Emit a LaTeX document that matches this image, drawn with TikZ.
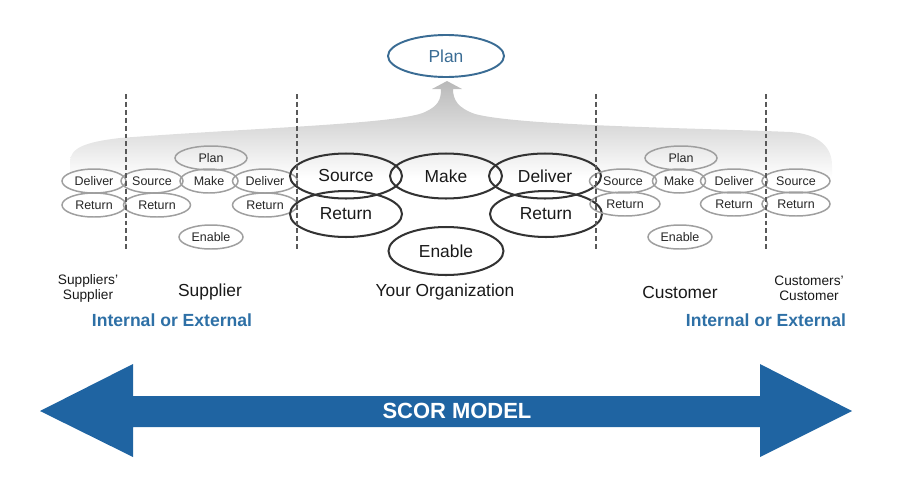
\documentclass[tikz,border=0pt]{standalone}
\usepackage{fontspec}
\setmainfont{Liberation Sans}
\usepackage{tikz}
\usetikzlibrary{shapes.geometric}
\definecolor{scorblue}{RGB}{31,100,162}
\definecolor{labelblue}{RGB}{46,112,166}
\definecolor{planblue}{RGB}{58,108,148}

\begin{document}
\begin{tikzpicture}[x=0.02cm, y=-0.02cm,
	smallproc/.style={ellipse, draw=gray!75, line width=0.85pt, inner sep=0pt, minimum width=1.28cm, minimum height=0.48cm, text=black!85, font=\fontsize{7.1}{8}\selectfont},
	bigproc/.style={ellipse, draw=black!80, line width=1.15pt, inner sep=0pt, minimum width=2.24cm, minimum height=0.9cm, text=black!90, font=\fontsize{9.9}{11}\selectfont},
	divider/.style={draw=black!65, line width=0.7pt, dash pattern=on 2.8pt off 1.7pt},
	party/.style={align=center, text=black!90, font=\fontsize{9.9}{11}\selectfont},
	subparty/.style={align=center, text=black!90, font=\fontsize{7.8}{8.5}\selectfont},
	scopelabel/.style={text=labelblue, font=\bfseries\fontsize{10}{12}\selectfont}]
	\useasboundingbox (0,0) rectangle (900,484);

	% grey band up to plan
	\shade[top color=gray!55, middle color=gray!24, bottom color=white]
		(70,178) -- (70,162) .. controls (70,148) and (85,142) .. (120,138)
		.. controls (250,128) and (400,124) .. (425,112)
		.. controls (438,106) and (441,100) .. (441,89) -- (432,89) -- (447,81) -- (462,89) -- (453,89)
		.. controls (453,100) and (458,108) .. (475,114)
		.. controls (520,126) and (700,128) .. (790,132)
		.. controls (820,134) and (832,148) .. (832,165) -- (832,178) -- cycle;

	\node[ellipse, draw=planblue, line width=1.1pt, minimum width=2.32cm, minimum height=0.84cm, text=planblue, font=\fontsize{9.9}{11}\selectfont] (plan) at (446,56) {Plan};

	% suppliers' supplier
	\node[smallproc] (ssDeliver) at (94,181) {Deliver};
	\node[smallproc] (ssReturn) at (94,205) {Return};

	% supplier
	\node[smallproc, minimum width=1.44cm] (sPlan) at (211,158) {Plan};
	\node[smallproc, minimum width=1.24cm] (sSource) at (152,181) {Source};
	\node[smallproc, minimum width=1.16cm] (sMake) at (209,181) {Make};
	\node[smallproc, minimum width=1.30cm] (sDeliver) at (265,181) {Deliver};
	\node[smallproc, minimum width=1.34cm] (sReturnA) at (157,205) {Return};
	\node[smallproc, minimum width=1.30cm] (sReturnB) at (265,205) {Return};
	\node[smallproc] (sEnable) at (211,237) {Enable};

	% your organization
	\node[bigproc] (oSource) at (346,176) {Source};
	\node[bigproc] (oMake) at (446,176) {Make};
	\node[bigproc] (oDeliver) at (545,176) {Deliver};
	\node[bigproc, minimum height=0.92cm] (oReturnA) at (346,214) {Return};
	\node[bigproc, minimum height=0.92cm] (oReturnB) at (546,214) {Return};
	\node[bigproc, minimum width=2.3cm, minimum height=0.96cm] (oEnable) at (446,251) {Enable};

	% customer
	\node[smallproc, minimum width=1.44cm] (cPlan) at (681,158) {Plan};
	\node[smallproc, minimum width=1.34cm] (cSource) at (623,181) {Source};
	\node[smallproc, minimum width=1.06cm] (cMake) at (679,181) {Make};
	\node[smallproc, minimum width=1.34cm] (cDeliver) at (734,181) {Deliver};
	\node[smallproc, minimum width=1.40cm] (cReturnA) at (625,204) {Return};
	\node[smallproc, minimum width=1.34cm] (cReturnB) at (734,204) {Return};
	\node[smallproc] (cEnable) at (680,237) {Enable};

	% customers' customer
	\node[smallproc, minimum width=1.36cm] (ccSource) at (796,181) {Source};
	\node[smallproc, minimum width=1.36cm] (ccReturn) at (796,204) {Return};

	\draw[divider] (126,94) -- (126,250);
	\draw[divider] (297,94) -- (297,250);
	\draw[divider] (596,94) -- (596,250);
	\draw[divider] (766,94) -- (766,250);

	\node[subparty] (ssLabel) at (88,288) {Suppliers'\\Supplier};
	\node[party] (sLabel) at (210,292) {Supplier};
	\node[party] (oLabel) at (445,292) {Your Organization};
	\node[party] (cLabel) at (680,293) {Customer};
	\node[subparty] (ccLabel) at (809,288) {Customers'\\Customer};
	\node[scopelabel] (leftScope) at (172,320) {Internal or External};
	\node[scopelabel] (rightScope) at (766,320) {Internal or External};

	% scor model arrow
	\fill[scorblue] (40,411) -- (133,364) -- (133,396) -- (760,396) -- (760,364) -- (852,411)
		-- (760,457) -- (760,427) -- (133,427) -- (133,457) -- cycle;
	\node[text=white, font=\bfseries\fontsize{12.5}{14}\selectfont] (scor) at (457,411) {SCOR MODEL};
\end{tikzpicture}
\end{document}
